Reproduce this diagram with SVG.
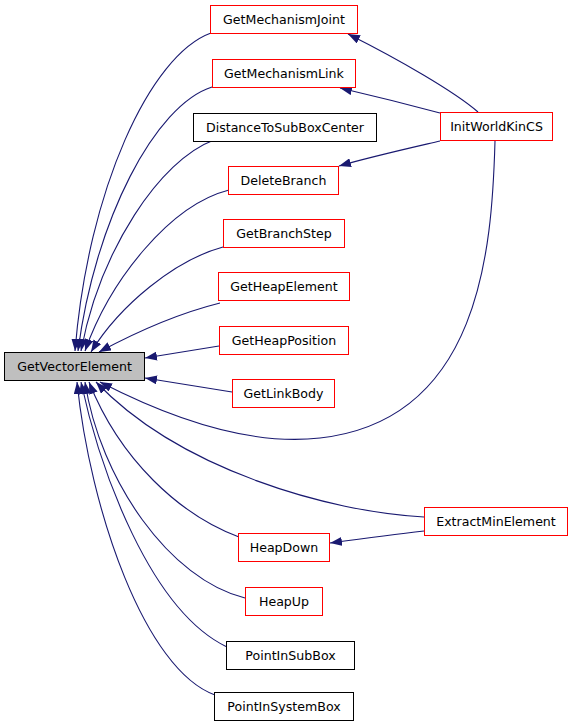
<svg xmlns="http://www.w3.org/2000/svg" width="573" height="728" viewBox="0 0 573 728">
<style>
.n rect{fill:#fff;stroke:#ff0000;stroke-width:1}
.n.b rect{stroke:#000}
.n.g rect{fill:#bfbfbf;stroke:#000}
.n text{font-family:"DejaVu Sans",sans-serif;font-size:12.6px;fill:#000;text-anchor:middle}
#edges path{fill:none;stroke:#191970;stroke-width:1.1;marker-end:url(#ah)}
</style>
<defs>
<marker id="ah" markerUnits="userSpaceOnUse" markerWidth="12" markerHeight="9" refX="12" refY="4.5" orient="auto">
<path d="M0,0 L12,4.5 L0,9 z" fill="#191970"/>
</marker>
</defs>
<rect width="573" height="728" fill="#fff"/>
<g id="edges">
<path d="M211,33 C150,55 88,190 75,351"/>
<path d="M212,87 C155,105 95,220 78,351"/>
<path d="M214,140 C160,160 100,250 81,351"/>
<path d="M229,190 C170,205 110,280 85,351"/>
<path d="M223,247 C175,260 120,305 91,352"/>
<path d="M220,303 C180,313 140,330 99,352"/>
<path d="M219,346 L145,358"/>
<path d="M232,392 L145,378"/>
<path d="M495,141 C492,250 480,420 320,438 C250,446 170,418 100,382"/>
<path d="M424,517 C330,512 180,470 96,382"/>
<path d="M239,537 C180,515 120,460 89,382"/>
<path d="M245,598 C170,580 100,480 85,382"/>
<path d="M227,647 C150,610 100,470 81,382"/>
<path d="M215,695 C145,670 90,510 77,382"/>
<path d="M478,112 C455,92 400,60 348,34"/>
<path d="M440,113 C410,105 370,95 340,88"/>
<path d="M440,141 C410,148 370,157 339,166"/>
<path d="M424,531 C390,535 360,539 330,543"/>
</g>
<g id="GetVectorElement" class="n g"><rect x="4.5" y="352.5" width="140" height="28"/><text x="74.5" y="371">GetVectorElement</text></g>
<g id="GetMechanismJoint" class="n"><rect x="210.5" y="5.5" width="147" height="28"/><text x="284" y="24">GetMechanismJoint</text></g>
<g id="GetMechanismLink" class="n"><rect x="212.5" y="59.5" width="143" height="28"/><text x="284" y="78">GetMechanismLink</text></g>
<g id="DistanceToSubBoxCenter" class="n b"><rect x="193.5" y="113.5" width="183" height="28"/><text x="285" y="132">DistanceToSubBoxCenter</text></g>
<g id="DeleteBranch" class="n"><rect x="228.5" y="166.5" width="110" height="28"/><text x="283.5" y="185">DeleteBranch</text></g>
<g id="GetBranchStep" class="n"><rect x="223.5" y="219.5" width="121" height="28"/><text x="284" y="238">GetBranchStep</text></g>
<g id="GetHeapElement" class="n"><rect x="218.5" y="272.5" width="131" height="28"/><text x="284" y="291">GetHeapElement</text></g>
<g id="GetHeapPosition" class="n"><rect x="219.5" y="326.5" width="129" height="28"/><text x="284" y="345">GetHeapPosition</text></g>
<g id="GetLinkBody" class="n"><rect x="232.5" y="379.5" width="102" height="28"/><text x="283.5" y="398">GetLinkBody</text></g>
<g id="InitWorldKinCS" class="n"><rect x="440.5" y="112.5" width="112" height="28"/><text x="496.5" y="131">InitWorldKinCS</text></g>
<g id="ExtractMinElement" class="n"><rect x="424.5" y="507.5" width="143" height="28"/><text x="496" y="526">ExtractMinElement</text></g>
<g id="HeapDown" class="n"><rect x="238.5" y="533.5" width="91" height="28"/><text x="284" y="552">HeapDown</text></g>
<g id="HeapUp" class="n"><rect x="245.5" y="587.5" width="77" height="28"/><text x="284" y="606">HeapUp</text></g>
<g id="PointInSubBox" class="n b"><rect x="226.5" y="641.5" width="128" height="28"/><text x="290.5" y="660">PointInSubBox</text></g>
<g id="PointInSystemBox" class="n b"><rect x="214.5" y="692.5" width="139" height="28"/><text x="284" y="711">PointInSystemBox</text></g>
</svg>
